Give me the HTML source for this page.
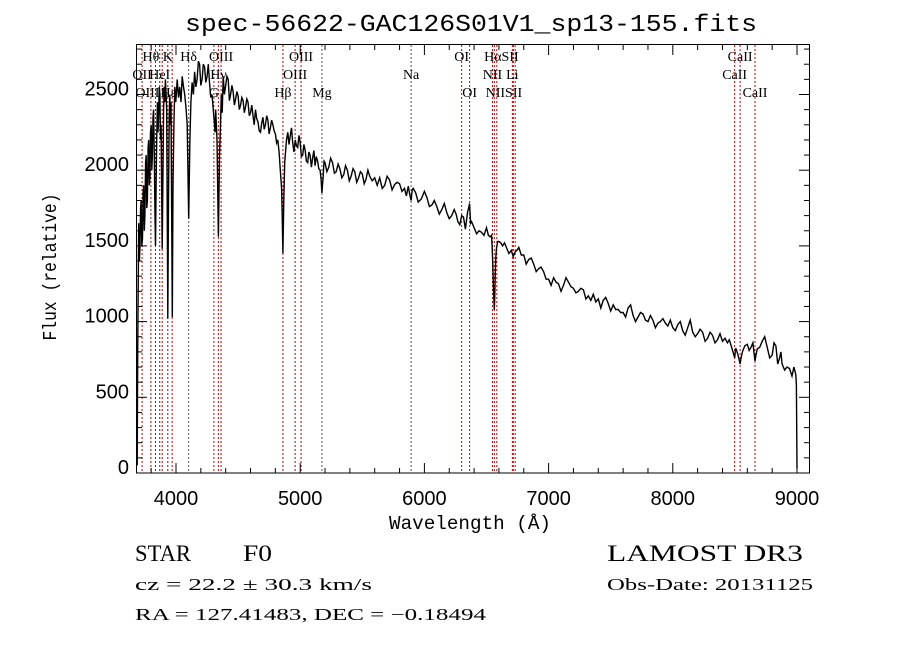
<!DOCTYPE html>
<html><head><meta charset="utf-8"><style>
html,body{margin:0;padding:0;background:#fff;}
svg{display:block;}
</style></head><body>
<svg id="chart" width="900" height="649" viewBox="0 0 900 649" xmlns="http://www.w3.org/2000/svg">
<rect x="0" y="0" width="900" height="649" fill="#fff"/>
<text x="471" y="31" text-anchor="middle" font-family="Liberation Mono, monospace" font-size="24" textLength="572" lengthAdjust="spacingAndGlyphs">spec-56622-GAC126S01V1_sp13-155.fits</text>
<g id="lines"></g>
<g id="labels" font-family="Liberation Serif, serif" font-size="14"></g>
<path id="spec" fill="none" stroke="#000" stroke-width="1.4" stroke-linejoin="miter"/>
<rect x="136.5" y="44.5" width="673" height="428.5" fill="none" stroke="#000" stroke-width="1"/>
<g id="axes" font-family="Liberation Sans, sans-serif" font-size="20"></g>
<text x="470" y="529" text-anchor="middle" font-family="Liberation Mono, monospace" font-size="19" textLength="162" lengthAdjust="spacingAndGlyphs">Wavelength (Å)</text>
<text transform="translate(56,267) rotate(-90)" text-anchor="middle" font-family="Liberation Mono, monospace" font-size="19" textLength="147" lengthAdjust="spacingAndGlyphs">Flux (relative)</text>
<g font-family="Liberation Serif, serif">
<text x="135" y="561" font-size="23" textLength="56" lengthAdjust="spacingAndGlyphs">STAR</text>
<text x="243" y="561" font-size="23" textLength="29" lengthAdjust="spacingAndGlyphs">F0</text>
<text x="135" y="590" font-size="17" textLength="237" lengthAdjust="spacingAndGlyphs">cz = 22.2 ± 30.3 km/s</text>
<text x="135" y="620" font-size="17" textLength="351" lengthAdjust="spacingAndGlyphs">RA = 127.41483, DEC =  −0.18494</text>
<text x="607" y="561" font-size="23" textLength="196" lengthAdjust="spacingAndGlyphs">LAMOST DR3</text>
<text x="607" y="590" font-size="17" textLength="206" lengthAdjust="spacingAndGlyphs">Obs-Date: 20131125</text>
</g>
</svg>
<script>
const wavelengths = [3688,3692,3700,3705,3710,3715,3720,3725,3730,3735,3740,3745,3750,3755,3760,3765,3770,3775,3780,3785,3790,3795,3800,3805,3810,3815,3820,3825,3830,3835,3840,3845,3850,3855,3860,3865,3870,3875,3880,3889,3895,3900,3905,3910,3915,3920,3925,3934,3940,3945,3950,3955,3960,3970,3976,3983,3990,3998,4010,4020,4030,4040,4050,4060,4070,4080,4090,4102,4112,4120,4130,4140,4150,4160,4170,4180,4190,4200,4210,4220,4230,4240,4250,4260,4270,4280,4290,4305,4315,4320,4330,4341,4350,4358,4365,4372,4380,4390,4400,4410,4420,4430,4440,4450,4460,4470,4480,4490,4500,4510,4520,4530,4540,4550,4560,4570,4580,4590,4600,4610,4620,4630,4640,4650,4660,4670,4680,4690,4700,4710,4720,4730,4740,4750,4760,4770,4780,4790,4800,4810,4820,4830,4840,4850,4855,4861,4868,4875,4880,4890,4900,4910,4920,4930,4940,4950,4960,4970,4980,4990,5000,5010,5020,5030,5040,5050,5060,5070,5080,5090,5100,5110,5120,5130,5140,5150,5160,5168,5175,5185,5192,5200,5215,5230,5245,5260,5275,5290,5305,5320,5335,5350,5365,5380,5395,5410,5425,5440,5455,5470,5485,5500,5515,5530,5545,5560,5580,5600,5620,5640,5660,5680,5700,5720,5740,5760,5780,5800,5820,5840,5855,5870,5882,5893,5902,5910,5930,5950,5975,6000,6020,6040,6060,6080,6100,6120,6140,6160,6180,6200,6220,6240,6255,6270,6285,6300,6315,6330,6347,6364,6372,6380,6400,6420,6440,6460,6480,6500,6515,6530,6540,6545,6550,6555,6560,6563,6566,6570,6575,6580,6590,6600,6615,6630,6645,6660,6680,6700,6715,6730,6745,6760,6780,6800,6820,6840,6860,6880,6900,6920,6940,6960,6980,7000,7020,7040,7060,7080,7100,7120,7140,7160,7180,7200,7220,7240,7260,7280,7300,7320,7340,7360,7380,7400,7420,7440,7460,7480,7500,7520,7540,7560,7580,7600,7620,7640,7660,7680,7700,7720,7740,7760,7780,7800,7820,7840,7860,7880,7900,7920,7940,7960,7980,8000,8020,8040,8060,8080,8100,8120,8140,8160,8180,8200,8220,8240,8260,8280,8300,8320,8340,8360,8380,8400,8420,8440,8455,8470,8485,8498,8505,8510,8525,8542,8550,8560,8580,8600,8615,8630,8645,8662,8670,8680,8700,8720,8740,8760,8780,8800,8815,8830,8845,8860,8870,8880,8900,8920,8940,8960,8975,8990,8995,9000,9002];
const fluxes = [50,800,1650,1400,1500,1750,1800,1500,1550,1850,1900,1600,1700,2050,2100,1750,1800,2150,2200,1900,1950,2250,2300,2000,2100,2350,2400,2100,1750,1500,1900,2200,2450,2250,2350,2550,2500,2200,2300,1480,2000,2400,2550,2450,2600,2500,2400,1020,1800,2350,2500,2300,2450,1030,1900,2300,2550,2450,2600,2480,2550,2450,2620,2550,2500,2420,2300,1680,2200,2450,2580,2500,2650,2550,2600,2720,2700,2560,2600,2700,2680,2580,2620,2700,2580,2480,2500,2350,2250,2400,2200,1560,2100,2300,2500,2380,2620,2500,2560,2620,2600,2460,2500,2560,2520,2430,2470,2520,2490,2400,2430,2480,2460,2380,2420,2470,2450,2360,2380,2430,2360,2300,2400,2340,2320,2260,2250,2310,2350,2270,2300,2360,2330,2240,2280,2330,2300,2260,2240,2180,2200,2120,2000,1880,1700,1450,1800,2050,2100,2200,2250,2170,2230,2280,2180,2120,2200,2160,2150,2230,2180,2090,2100,2170,2130,2060,2050,2120,2100,2020,2080,2130,2030,2090,2060,2010,2000,1940,1850,1960,2060,2050,1990,2020,2080,2050,1980,1990,2040,2010,1950,1970,2030,2000,1930,1960,2010,1990,1920,1950,1990,1975,1910,1940,2000,1960,1930,1950,1900,1950,1880,1900,1960,1935,1870,1905,1920,1910,1860,1880,1830,1895,1840,1800,1870,1880,1850,1790,1810,1860,1820,1760,1770,1800,1760,1710,1740,1780,1720,1680,1700,1740,1710,1660,1640,1700,1690,1610,1720,1780,1650,1660,1620,1580,1600,1590,1570,1620,1570,1560,1570,1500,1400,1250,1130,1080,1150,1300,1420,1480,1530,1530,1520,1500,1520,1490,1450,1470,1430,1460,1470,1490,1440,1440,1380,1410,1420,1380,1330,1350,1360,1330,1280,1280,1240,1290,1260,1250,1200,1240,1290,1260,1230,1220,1190,1200,1220,1210,1150,1170,1140,1180,1130,1150,1090,1140,1160,1120,1070,1110,1080,1080,1060,1060,1030,1090,1110,1040,1000,1030,1060,1050,1010,1000,1040,1010,960,990,1000,1020,990,970,1010,960,940,980,1000,940,910,960,1010,930,900,920,950,930,870,890,930,910,860,880,920,870,890,860,880,840,800,760,820,820,780,720,760,800,840,850,810,830,860,740,780,820,830,870,900,830,760,780,860,840,720,760,800,720,680,700,690,640,700,650,580,30];
const lineWaves = [3727,3798,3835,3869,3889,3934,3969,4102,4305,4341,4363,4861,4959,5007,5175,5893,6300,6364,6548,6563,6583,6708,6716,6731,8498,8542,8662];
const labelNames = ["Hθ","K","Hδ","OIII","OIII","OI","HαSII","CaII","OII","HeI","Hγ","OIII","Na","NII","Li","CaII","OIII","Hε","G","Hβ","Mg","OI","NIISII","CaII"];
const labelWaves = [3798,3934,4102,4363,5007,6300,6620,8542,3727,3869,4341,4959,5893,6548,6708,8498,3770,3940,4305,4861,5175,6364,6640,8662];
const labelRows = [1,1,1,1,1,1,1,1,2,2,2,2,2,2,2,2,3,3,3,3,3,3,3,3];
const xTicks = [4000,5000,6000,7000,8000,9000];
const yTicks = [0,500,1000,1500,2000,2500];

const NS = "http://www.w3.org/2000/svg";
const xScale = w => 176 + (w - 4000) * 0.1242;
const yScale = f => 473 - f * 0.1514;

let d = "";
for (let i = 0; i < wavelengths.length; i++) {
  d += (i ? "L" : "M") + xScale(wavelengths[i]).toFixed(1) + " " + yScale(fluxes[i]).toFixed(1);
}
document.getElementById("spec").setAttribute("d", d);

const lg = document.getElementById("lines");
lineWaves.forEach(w => {
  const l = document.createElementNS(NS, "line");
  
  
  const x = xScale(w);
  l.setAttribute("x1", x); l.setAttribute("x2", x);
  l.setAttribute("y1", 45); l.setAttribute("y2", 473);
  l.setAttribute("stroke", (w === 5893 || w === 5175 || w === 4102) ? "#555" : "#c00000");
  l.setAttribute("stroke-width", "1");
  l.setAttribute("stroke-dasharray", "2,2");
  lg.appendChild(l);
});

const lbg = document.getElementById("labels");
labelNames.forEach((n, i) => {
  const t = document.createElementNS(NS, "text");
  
  
  t.setAttribute("x", xScale(labelWaves[i]));
  t.setAttribute("y", 61 + (labelRows[i] - 1) * 18);
  t.setAttribute("text-anchor", "middle");
  t.textContent = n;
  lbg.appendChild(t);
});

const ag = document.getElementById("axes");
function mk(tag, attrs) {
  const e = document.createElementNS(NS, tag);
  for (const k in attrs) e.setAttribute(k, attrs[k]);
  ag.appendChild(e);
  return e;
}
for (let w = 3800; w <= 9100; w += 200) {
  const x = xScale(w), major = w % 1000 === 0, len = major ? 10 : 5;
  const a = mk("line", {x1: x, x2: x, y1: 473, y2: 473 - len, stroke: "#000"});
  
  
  const b = mk("line", {x1: x, x2: x, y1: 45, y2: 45 + len, stroke: "#000"});
  
  
}
xTicks.forEach(w => {
  const t = mk("text", {x: xScale(w), y: 505, "text-anchor": "middle"});
  
  
  t.textContent = w;
});
for (let f = 0; f <= 2800; f += 100) {
  const y = yScale(f), major = f % 500 === 0, len = major ? 10 : 5;
  const a = mk("line", {x1: 137, x2: 137 + len, y1: y, y2: y, stroke: "#000"});
  
  
  const b = mk("line", {x1: 809, x2: 809 - len, y1: y, y2: y, stroke: "#000"});
  
  
}
yTicks.forEach(f => {
  const t = mk("text", {x: 129, y: yScale(f) + 1, "text-anchor": "end"});
  
  
  t.textContent = f;
});
</script>
</body></html>
